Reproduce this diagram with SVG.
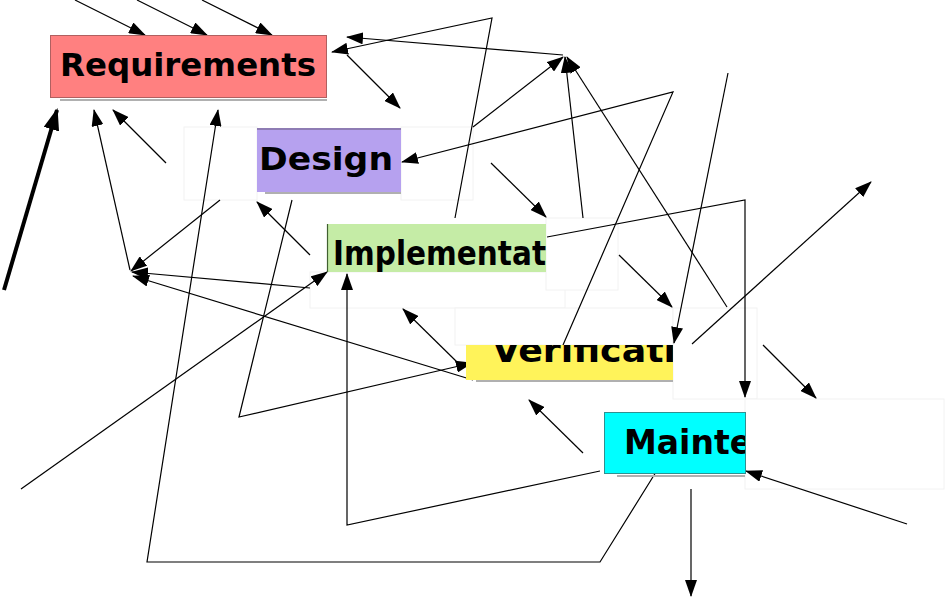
<svg xmlns="http://www.w3.org/2000/svg" width="945" height="598" viewBox="0 0 945 598">
<defs>
<style>
.ln{fill:none;stroke:#000;stroke-width:1.2}
.ar{marker-end:url(#ah)}
.ghost{fill:#fff;stroke:#f2f2f2;stroke-width:1}
.lbl{font-family:"DejaVu Sans",sans-serif;font-weight:bold;fill:#000}
.shadow{stroke:#b0b0b0;stroke-width:2}
</style>
<marker id="ah" markerWidth="17" markerHeight="12" refX="16" refY="6" orient="auto" markerUnits="userSpaceOnUse">
<path d="M0,0 L17,6 L0,12 Z" fill="#000"/>
</marker>
<marker id="ahb" markerWidth="22" markerHeight="16" refX="20" refY="8" orient="auto" markerUnits="userSpaceOnUse">
<path d="M0,0 L22,8 L0,16 Z" fill="#000"/>
</marker>
<clipPath id="cImpl"><rect x="327" y="224" width="219" height="48"/></clipPath>
<clipPath id="cVer"><rect x="466" y="345" width="207" height="35"/></clipPath>
<clipPath id="cMain"><rect x="604" y="412" width="141" height="62"/></clipPath>
</defs>

<g id="ghosts">
<rect class="ghost" x="184" y="127" width="73" height="73"/>
<rect class="ghost" x="401" y="127" width="72" height="73"/>
<rect class="ghost" x="310" y="272" width="255" height="36"/>
<rect class="ghost" x="546" y="218" width="72" height="72"/>
<rect class="ghost" x="455" y="308" width="218" height="37"/>
<rect class="ghost" x="673" y="308" width="84" height="91"/>
<rect class="ghost" x="745" y="399" width="199" height="90"/>
</g>

<g id="connectors">
<line class="ln ar" x1="75" y1="0" x2="145" y2="35"/>
<line class="ln ar" x1="137" y1="0" x2="207" y2="35"/>
<line class="ln ar" x1="202" y1="0" x2="272" y2="35"/>
<polyline class="ln ar" points="455,218 492,18 332,52"/>
<line class="ln ar" x1="563" y1="55" x2="347" y2="37"/>
<line class="ln ar" x1="347" y1="55" x2="400" y2="108"/>
<line class="ln ar" x1="473" y1="127" x2="563" y2="57"/>
<line class="ln ar" x1="583" y1="218" x2="565" y2="57"/>
<line class="ln ar" x1="727" y1="307" x2="567" y2="57"/>
<polyline class="ln ar" points="563,345 673,92 402,162"/>
<line class="ln ar" x1="728" y1="73" x2="674" y2="343"/>
<polyline class="ln ar" points="547,237 745,200 745,397"/>
<line class="ln ar" x1="692" y1="344" x2="871" y2="182"/>
<line class="ln ar" x1="619" y1="255" x2="672" y2="307"/>
<line class="ln ar" x1="763" y1="345" x2="816" y2="398"/>
<line class="ln ar" x1="491" y1="163" x2="546" y2="217"/>
<line class="ln ar" x1="907" y1="524" x2="746" y2="471"/>
<polyline class="ln ar" points="656,472 600,562 147,562 218,110"/>
<line class="ln ar" x1="21" y1="489" x2="327" y2="272"/>
<polyline class="ln ar" points="292,200 239,417 472,363"/>
<polyline class="ln ar" points="600,471 347,525 347,274"/>
<line class="ln ar" x1="583" y1="453" x2="529" y2="400"/>
<line class="ln ar" x1="691" y1="489" x2="691" y2="596"/>
<line x1="4" y1="290" x2="57" y2="110" style="fill:none;stroke:#000;stroke-width:4" marker-end="url(#ahb)"/>
<line class="ln ar" x1="130" y1="270" x2="94" y2="110"/>
<line class="ln ar" x1="166" y1="163" x2="113" y2="110"/>
<line class="ln ar" x1="220" y1="200" x2="131" y2="271"/>
<line class="ln ar" x1="310" y1="255" x2="257" y2="202"/>
<line class="ln ar" x1="310" y1="288" x2="132" y2="272"/>
<line class="ln ar" x1="473" y1="380" x2="133" y2="276"/>
<line class="ln ar" x1="458" y1="363" x2="403" y2="309"/>
</g>

<g id="requirements">
<line class="shadow" x1="60" y1="100" x2="327" y2="100"/>
<rect x="50.5" y="35.5" width="276" height="62" fill="#ff8080" stroke="#b06060" stroke-width="1"/>
<text class="lbl" x="60" y="76" font-size="32" textLength="256" lengthAdjust="spacingAndGlyphs">Requirements</text>
</g>

<g id="design">
<line class="shadow" x1="265" y1="193" x2="401" y2="193"/>
<rect x="257" y="128" width="144" height="64" fill="#b6a1ef"/>
<line x1="257" y1="129" x2="401" y2="129" stroke="#8070a0" stroke-width="1.5"/>
<text class="lbl" x="259" y="170" font-size="32" textLength="134" lengthAdjust="spacingAndGlyphs">Design</text>
</g>

<g id="implementation">
<rect x="327" y="224" width="219" height="48" fill="#c5eca6"/>
<line x1="327.5" y1="224" x2="327.5" y2="272" stroke="#406030" stroke-width="1.2"/>
<text class="lbl" x="333" y="265" font-size="34" textLength="213" lengthAdjust="spacingAndGlyphs" clip-path="url(#cImpl)">Implementat</text>
</g>

<g id="verification">
<line class="shadow" x1="476" y1="381" x2="673" y2="381"/>
<rect x="466" y="345" width="207" height="35" fill="#fff35a"/>
<text class="lbl" x="492" y="362" font-size="33" textLength="184" lengthAdjust="spacingAndGlyphs" clip-path="url(#cVer)">Verificati</text>
</g>

<g id="maintenance">
<line class="shadow" x1="617" y1="476" x2="745" y2="476"/>
<rect x="604.5" y="412.5" width="141" height="61" fill="#00ffff" stroke="#309090" stroke-width="1"/>
<text class="lbl" x="624" y="454" font-size="33" clip-path="url(#cMain)">Mainte</text>
</g>
</svg>
